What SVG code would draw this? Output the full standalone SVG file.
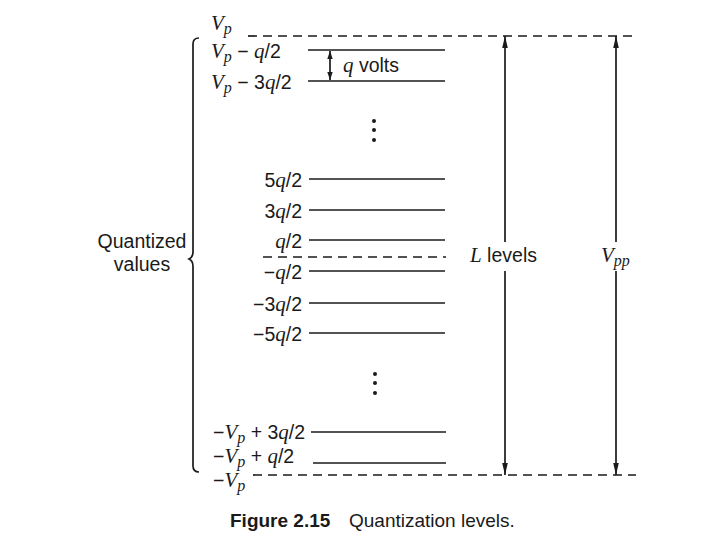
<svg xmlns="http://www.w3.org/2000/svg" width="720" height="540" viewBox="0 0 720 540">
<style>
.s{font-family:"Liberation Sans",Arial,sans-serif;font-size:19.5px;fill:#1a1a1a}
.i{font-family:"Liberation Serif","Times New Roman",serif;font-style:italic;font-size:21px}
.sub{font-size:16px}
.lv{stroke:#1a1a1a;stroke-width:1.7;fill:none}
.dash{stroke:#1a1a1a;stroke-width:1.7;stroke-dasharray:9 6;fill:none}
.cap{font-family:"Liberation Sans",Arial,sans-serif;font-size:19px;fill:#1a1a1a}
</style>
<defs>
<marker id="ah" markerWidth="12" markerHeight="8" refX="12" refY="4" orient="auto" markerUnits="userSpaceOnUse">
<path d="M0,1.2 L12,4 L0,6.8 Z" fill="#1a1a1a"/>
</marker>
<marker id="ahs" markerWidth="8" markerHeight="7" refX="8" refY="3.5" orient="auto" markerUnits="userSpaceOnUse">
<path d="M0,0.8 L8,3.5 L0,6.2 Z" fill="#1a1a1a"/>
</marker>
</defs>
<rect width="720" height="540" fill="#fff"/>

<g id="connectors">
<line class="dash" x1="248" y1="36" x2="636" y2="36"/>
<line class="dash" x1="263" y1="257" x2="446" y2="257"/>
<line class="dash" x1="253" y1="475" x2="636" y2="475"/>
<line class="lv" x1="505" y1="242" x2="505" y2="36" marker-end="url(#ah)"/>
<line class="lv" x1="505" y1="271" x2="505" y2="475" marker-end="url(#ah)"/>
<line class="lv" x1="616" y1="242" x2="616" y2="36" marker-end="url(#ah)"/>
<line class="lv" x1="616" y1="271" x2="616" y2="475" marker-end="url(#ah)"/>
<line class="lv" x1="330" y1="66" x2="330" y2="51" marker-end="url(#ahs)"/>
<line class="lv" x1="330" y1="66" x2="330" y2="80" marker-end="url(#ahs)"/>
</g>

<g id="levels">
<line class="lv" x1="308" y1="50" x2="445" y2="50"/>
<line class="lv" x1="308" y1="81" x2="445" y2="81"/>
<line class="lv" x1="309" y1="179" x2="445" y2="179"/>
<line class="lv" x1="309" y1="210" x2="445" y2="210"/>
<line class="lv" x1="309" y1="240" x2="445" y2="240"/>
<line class="lv" x1="309" y1="271" x2="445" y2="271"/>
<line class="lv" x1="309" y1="303" x2="445" y2="303"/>
<line class="lv" x1="309" y1="333" x2="445" y2="333"/>
<line class="lv" x1="311" y1="432" x2="446" y2="432"/>
<line class="lv" x1="313" y1="463" x2="446" y2="463"/>
</g>

<g id="dots" fill="#1a1a1a">
<circle cx="374" cy="121" r="2"/><circle cx="374" cy="130" r="2"/><circle cx="374" cy="140" r="2"/>
<circle cx="375" cy="374" r="2"/><circle cx="375" cy="383" r="2"/><circle cx="375" cy="393" r="2"/>
</g>

<g id="labels" class="s">
<text x="211" y="30"><tspan class="i">V</tspan><tspan class="i sub" dy="4">p</tspan></text>
<text x="211" y="58"><tspan class="i">V</tspan><tspan class="i sub" dy="4">p</tspan><tspan dy="-4"> − </tspan><tspan class="i">q</tspan>/2</text>
<text x="211" y="89"><tspan class="i">V</tspan><tspan class="i sub" dy="4">p</tspan><tspan dy="-4"> − 3</tspan><tspan class="i">q</tspan>/2</text>
<text x="302" y="187" text-anchor="end">5<tspan class="i">q</tspan>/2</text>
<text x="302" y="218" text-anchor="end">3<tspan class="i">q</tspan>/2</text>
<text x="302" y="248" text-anchor="end"><tspan class="i">q</tspan>/2</text>
<text x="302" y="279" text-anchor="end">−<tspan class="i">q</tspan>/2</text>
<text x="302" y="311" text-anchor="end">−3<tspan class="i">q</tspan>/2</text>
<text x="302" y="341" text-anchor="end">−5<tspan class="i">q</tspan>/2</text>
<text x="213" y="439">−<tspan class="i">V</tspan><tspan class="i sub" dy="4">p</tspan><tspan dy="-4"> + 3</tspan><tspan class="i">q</tspan>/2</text>
<text x="213" y="463">−<tspan class="i">V</tspan><tspan class="i sub" dy="4">p</tspan><tspan dy="-4"> + </tspan><tspan class="i">q</tspan>/2</text>
<text x="213" y="487">−<tspan class="i">V</tspan><tspan class="i sub" dy="4">p</tspan></text>
<text x="343" y="72"><tspan class="i">q</tspan> volts</text>
<text x="470" y="262"><tspan class="i">L</tspan> levels</text>
<text x="601" y="262"><tspan class="i">V</tspan><tspan class="i sub" dy="4">pp</tspan></text>
</g>

<g id="quantized">
<path class="lv" d="M199,38 Q193,38 193,44 L193,252 Q193,257 189,259 Q193,261 193,266 L193,466 Q193,472 199,472" stroke-width="1.3"/>
<text class="s" x="142" y="248" text-anchor="middle">Quantized</text>
<text class="s" x="142" y="271" text-anchor="middle">values</text>
</g>

<g id="caption">
<text class="cap" x="230" y="527"><tspan font-weight="bold">Figure 2.15</tspan><tspan x="349">Quantization levels.</tspan></text>
</g>
</svg>
